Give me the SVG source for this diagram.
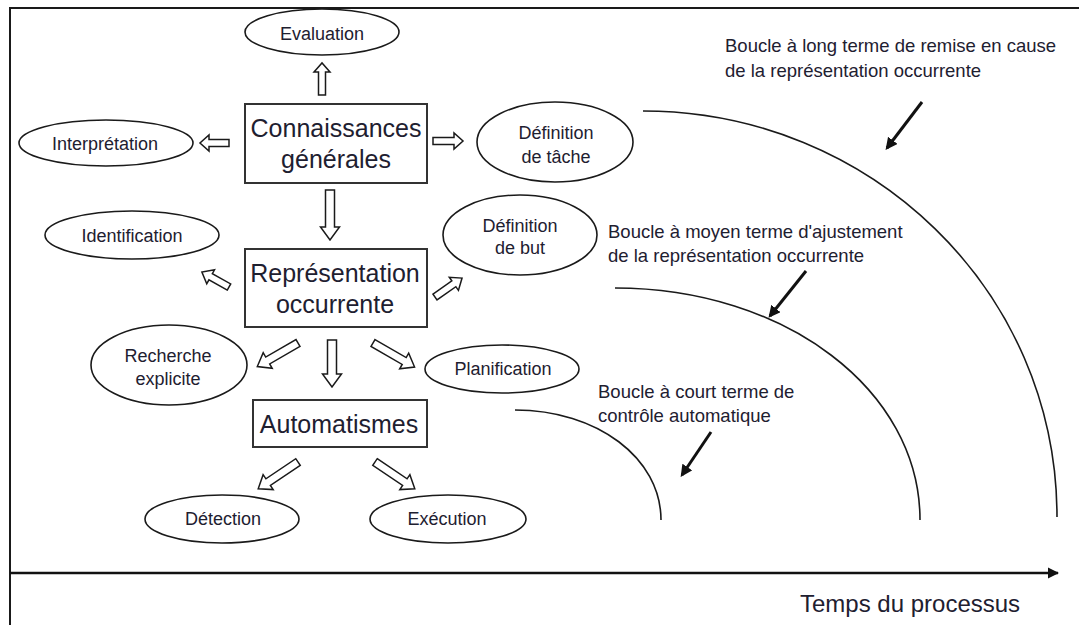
<svg xmlns="http://www.w3.org/2000/svg" width="1079" height="625" viewBox="0 0 1079 625">
<style>
  .bg{fill:#fff}
  .frame{stroke:#1a1a1a;stroke-width:2;fill:none}
  .ell{fill:#fff;stroke:#1a1a1a;stroke-width:1.6}
  .box{fill:#fff;stroke:#333;stroke-width:2}
  .ha{fill:#fff;stroke:#1a1a1a;stroke-width:1.5;stroke-linejoin:miter}
  .arc{fill:none;stroke:#1a1a1a;stroke-width:1.6}
  .ba{stroke:#111;stroke-width:3;fill:none}
  .t{font-family:"Liberation Sans",Arial,sans-serif;fill:#1e2030;text-anchor:middle}
  .s{font-size:18px}
  .b{font-size:25px}
  .n{font-family:"Liberation Sans",Arial,sans-serif;fill:#1e2030;font-size:18.5px}
</style>
<defs>
  <marker id="blk" viewBox="0 0 10 10" refX="8" refY="5" markerWidth="4" markerHeight="4" orient="auto" markerUnits="strokeWidth">
    <path d="M0,0 L10,5 L0,10 Z" fill="#111"/>
  </marker>
  <marker id="axh" viewBox="0 0 10 10" refX="9" refY="5" markerWidth="4.5" markerHeight="4.5" orient="auto" markerUnits="strokeWidth">
    <path d="M0,0 L10,5 L0,10 Z" fill="#111"/>
  </marker>
</defs>
<rect class="bg" x="0" y="0" width="1079" height="625"/>
<g id="frame">
  <path class="frame" d="M10,625 V8 H1079"/>
</g>

<g id="connectors">
  <!-- hollow block arrows: drawn pointing right from tail (0,0), rotated -->
  <path class="ha" transform="translate(322,95) rotate(-90)" d="M0,-3.5 H23 V-8 L32,0 L23,8 V3.5 H0 Z"/>
  <path class="ha" transform="translate(229,143) rotate(180)" d="M0,-3.5 H20 V-8 L29,0 L20,8 V3.5 H0 Z"/>
  <path class="ha" transform="translate(433,141)" d="M0,-3.5 H21 V-8 L30,0 L21,8 V3.5 H0 Z"/>
  <path class="ha" transform="translate(330,190) rotate(90)" d="M0,-4.5 H37 V-9.5 L50,0 L37,9.5 V4.5 H0 Z"/>
  <path class="ha" transform="translate(229,287) rotate(209)" d="M0,-3.5 H21 V-8 L31,0 L21,8 V3.5 H0 Z"/>
  <path class="ha" transform="translate(435,297) rotate(-35)" d="M0,-3.5 H23 V-8 L33,0 L23,8 V3.5 H0 Z"/>
  <path class="ha" transform="translate(298,343) rotate(150)" d="M0,-4 H35 V-9 L47,0 L35,9 V4 H0 Z"/>
  <path class="ha" transform="translate(332,340) rotate(90)" d="M0,-4.5 H34 V-9.5 L47,0 L34,9.5 V4.5 H0 Z"/>
  <path class="ha" transform="translate(373,343) rotate(30)" d="M0,-4 H36 V-9 L48,0 L36,9 V4 H0 Z"/>
  <path class="ha" transform="translate(298,462) rotate(146)" d="M0,-4 H36 V-9 L48,0 L36,9 V4 H0 Z"/>
  <path class="ha" transform="translate(375,462) rotate(34)" d="M0,-4 H36 V-9 L48,0 L36,9 V4 H0 Z"/>

  <!-- loops -->
  <path class="arc" d="M643,111 C870,111 1057,290 1057,517"/>
  <path class="arc" d="M615,288 C785,288 920,390 920,520"/>
  <path class="arc" d="M515,410 C597,410 661,458 661,520"/>

  <!-- black pointer arrows -->
  <line class="ba" x1="922" y1="102" x2="887" y2="148" marker-end="url(#blk)"/>
  <line class="ba" x1="806" y1="271" x2="770" y2="316" marker-end="url(#blk)"/>
  <line class="ba" x1="711" y1="432" x2="682" y2="475" marker-end="url(#blk)"/>

  <!-- time axis -->
  <line x1="10" y1="573" x2="1058" y2="573" stroke="#111" stroke-width="2.5" marker-end="url(#axh)"/>
</g>

<g id="n-evaluation">
  <ellipse class="ell" cx="322" cy="32" rx="77" ry="23"/>
  <text class="t s" x="322" y="40">Evaluation</text>
</g>
<g id="n-interpretation">
  <ellipse class="ell" cx="106" cy="143" rx="87" ry="23"/>
  <text class="t s" x="105" y="150">Interprétation</text>
</g>
<g id="n-connaissances">
  <rect class="box" x="245" y="104" width="182" height="79"/>
  <text class="t b" x="336" y="137">Connaissances</text>
  <text class="t b" x="336" y="168">générales</text>
</g>
<g id="n-def-tache">
  <ellipse class="ell" cx="555" cy="142" rx="78" ry="40"/>
  <text class="t s" x="556" y="139">Définition</text>
  <text class="t s" x="556" y="163">de tâche</text>
</g>
<g id="n-identification">
  <ellipse class="ell" cx="132" cy="235" rx="87" ry="24"/>
  <text class="t s" x="132" y="242">Identification</text>
</g>
<g id="n-def-but">
  <ellipse class="ell" cx="520" cy="235" rx="77" ry="40"/>
  <text class="t s" x="520" y="232">Définition</text>
  <text class="t s" x="520" y="254">de but</text>
</g>
<g id="n-representation">
  <rect class="box" x="245" y="249" width="182" height="78"/>
  <text class="t b" x="335" y="282">Représentation</text>
  <text class="t b" x="335" y="313">occurrente</text>
</g>
<g id="n-recherche">
  <ellipse class="ell" cx="169" cy="365" rx="78" ry="40"/>
  <text class="t s" x="168" y="362">Recherche</text>
  <text class="t s" x="168" y="385">explicite</text>
</g>
<g id="n-planification">
  <ellipse class="ell" cx="502" cy="369" rx="77" ry="24"/>
  <text class="t s" x="503" y="375">Planification</text>
</g>
<g id="n-automatismes">
  <rect class="box" x="253" y="400" width="174" height="47"/>
  <text class="t b" x="339" y="433">Automatismes</text>
</g>
<g id="n-detection">
  <ellipse class="ell" cx="222" cy="519" rx="77" ry="24"/>
  <text class="t s" x="223" y="525">Détection</text>
</g>
<g id="n-execution">
  <ellipse class="ell" cx="448" cy="519" rx="78" ry="24"/>
  <text class="t s" x="447" y="525">Exécution</text>
</g>

<g id="labels">
  <text class="n" x="725" y="52">Boucle à long terme de remise en cause</text>
  <text class="n" x="725" y="77">de la représentation occurrente</text>
  <text class="n" x="608" y="238">Boucle à moyen terme d'ajustement</text>
  <text class="n" x="608" y="262">de la représentation occurrente</text>
  <text class="n" x="598" y="398">Boucle à court terme de</text>
  <text class="n" x="598" y="422">contrôle automatique</text>
  <text x="800" y="612" font-family="Liberation Sans, Arial, sans-serif" font-size="24" fill="#1e2030">Temps du processus</text>
</g>
</svg>
